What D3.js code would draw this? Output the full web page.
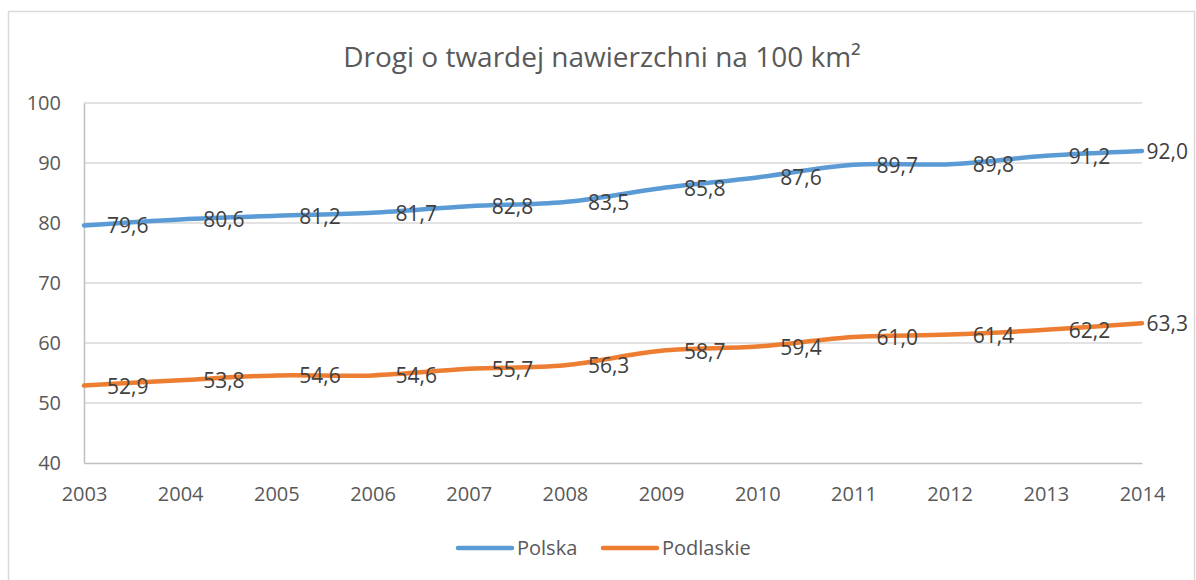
<!DOCTYPE html>
<html>
<head>
<meta charset="utf-8">
<script src="https://cdn.jsdelivr.net/npm/d3@7"></script>
<style>
  body { margin: 0; background: #fff; }
  text { font-family: "Open Sans", sans-serif; }
</style>
</head>
<body>
<div class="chart"></div>
<script>
// Data
const years = [2003, 2004, 2005, 2006, 2007, 2008, 2009, 2010, 2011, 2012, 2013, 2014];
const polska = [79.6, 80.6, 81.2, 81.7, 82.8, 83.5, 85.8, 87.6, 89.7, 89.8, 91.2, 92.0];
const podlaskie = [52.9, 53.8, 54.6, 54.6, 55.7, 56.3, 58.7, 59.4, 61.0, 61.4, 62.2, 63.3];
const yTicks = [40, 50, 60, 70, 80, 90, 100];
const seriesNames = ["Polska", "Podlaskie"];
const colors = ["#5B9BD5", "#ED7D31"];

const W = 1196, H = 580;
const margin = {top: 103, left: 84, right: 54, bottom: 117};
const width = W - margin.left - margin.right;
const height = H - margin.top - margin.bottom;

const svg = d3.select(".chart").append("svg")
    .attr("width", W)
    .attr("height", H);

// chart border
svg.append("rect")
    .attr("x", 8.5).attr("y", 11.5)
    .attr("width", 1186).attr("height", 600)
    .attr("fill", "#fff")
    .attr("stroke", "#d9d9d9")
    .attr("stroke-width", 1.5);

// title
svg.append("text")
    .attr("x", 602).attr("y", 67)
    .attr("text-anchor", "middle")
    .attr("fill", "#595959")
    .attr("font-size", 28)
    .text("Drogi o twardej nawierzchni na 100 km²");

const g = svg.append("g")
    .attr("transform", `translate(${margin.left},${margin.top})`);

// scales
const xScale = d3.scaleLinear()
    .domain([d3.min(years), d3.max(years)])
    .range([0, width]);

const yScale = d3.scaleLinear()
    .domain([40, 100])
    .range([height, 0]);

// gridlines
g.append("g")
    .selectAll("line")
    .data(yTicks.filter(d => d > 40))
    .join("line")
    .attr("x1", 0).attr("x2", width)
    .attr("y1", d => yScale(d)).attr("y2", d => yScale(d))
    .attr("stroke", "#d9d9d9")
    .attr("stroke-width", 1.5);

// axes
const xAxis = d3.axisBottom(xScale)
    .tickValues(years)
    .tickFormat(d3.format("d"))
    .tickSize(0)
    .tickPadding(24);

const yAxis = d3.axisLeft(yScale)
    .tickValues(yTicks)
    .tickSize(0)
    .tickPadding(23);

const xAxisChart = g.append("g")
    .attr("class", "axis x-axis")
    .attr("transform", `translate(0,${height})`)
    .call(xAxis);

const yAxisChart = g.append("g")
    .attr("class", "axis y-axis")
    .call(yAxis);

[xAxisChart, yAxisChart].forEach(a => {
    a.select(".domain").attr("stroke", "#bfbfbf").attr("stroke-width", 1.5);
    a.selectAll("text")
        .attr("fill", "#595959")
        .attr("font-size", 20)
        .attr("font-family", "Open Sans, sans-serif");
});

// lines
const line = d3.line()
    .x((d, i) => xScale(years[i]))
    .y(d => yScale(d))
    .curve(d3.curveCatmullRom.alpha(0.5));

const allSeries = [polska, podlaskie];

allSeries.forEach((values, s) => {
    g.append("path")
        .datum(values)
        .attr("fill", "none")
        .attr("stroke", colors[s])
        .attr("stroke-width", 4.5)
        .attr("stroke-linecap", "round")
        .attr("d", line);
});

// data labels (right of point, kept inside the chart)
const fmt = v => d3.format(".1f")(v).replace(".", ",");
allSeries.forEach(values => {
    g.append("g")
        .selectAll("text")
        .data(values)
        .join("text")
        .attr("fill", "#404040")
        .attr("font-size", 21)
        .attr("y", d => yScale(d) + 8)
        .text(d => fmt(d))
        .attr("x", function(d, i) {
            const w = this.getComputedTextLength();
            const x = xScale(years[i]) + 23;
            return Math.min(x, 1188 - margin.left - w);
        });
});

// legend
const legend = svg.append("g");
const legendX = [458, 603];
seriesNames.forEach((name, s) => {
    legend.append("line")
        .attr("x1", legendX[s]).attr("x2", legendX[s] + 54)
        .attr("y1", 548).attr("y2", 548)
        .attr("stroke", colors[s])
        .attr("stroke-width", 4.5)
        .attr("stroke-linecap", "round");
    legend.append("text")
        .attr("x", legendX[s] + 59)
        .attr("y", 555)
        .attr("fill", "#595959")
        .attr("font-size", 20)
        .text(name);
});
</script>
</body>
</html>
